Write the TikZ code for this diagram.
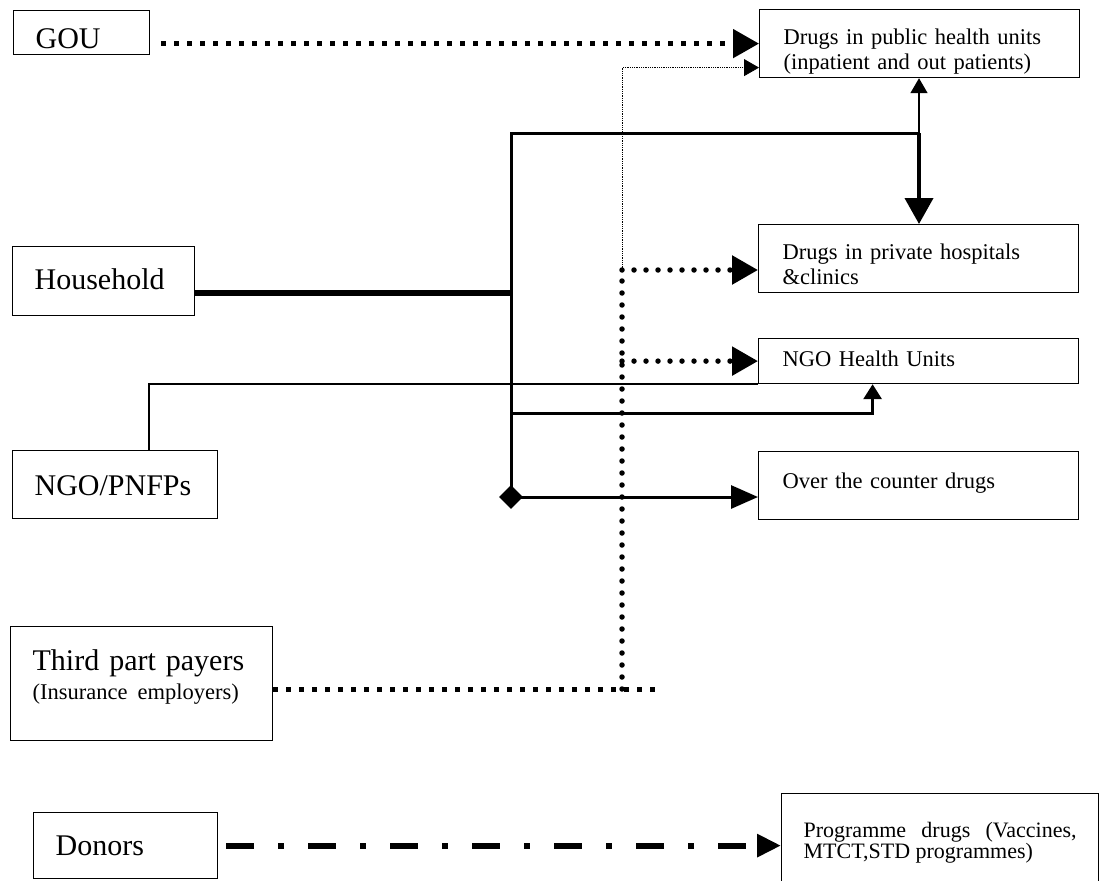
\documentclass[tikz,border=0pt]{standalone}
\usepackage{fontspec}
\setmainfont{Liberation Serif}
\usetikzlibrary{arrows.meta,shapes.geometric,positioning}
\tikzset{
  basic/.style  = {draw, line width=1.2pt, rectangle, anchor=north west, inner ysep=0pt},
  source/.style = {basic, align=left, inner xsep=22pt, font=\fontsize{30}{34}\selectfont},
  outlet/.style = {basic, align=left, inner xsep=24pt, text width=272pt, font=\fontsize{22.5}{25}\selectfont},
  sqdots/.style = {line width=5pt, dash pattern=on 5pt off 8pt},
  rdots/.style  = {line width=5.5pt, line cap=round, dash pattern=on 0pt off 12pt},
  big tip/.style   = {-{Triangle[length=26pt,width=28pt]}},
  small tip/.style = {-{Triangle[length=15pt,width=17pt]}}
}
\begin{document}
\begin{tikzpicture}[x=1pt,y=-1pt]
    \useasboundingbox (0,0) rectangle (1102,880);

    % payers on the left
    \node[source, text width=92pt, text height=38pt, text depth=6pt] (gou) at (13,10) {GOU};
    \node[source, text width=138pt, text height=43pt, text depth=26pt] (house) at (12,246) {Household};
    \node[source, text width=161pt, text height=45pt, text depth=23pt] (ngo) at (12,450) {NGO/PNFPs};
    \node[source, text width=218pt, text height=44pt, text depth=70pt] (third) at (10,626)
      {Third part payers\\[-5pt]{\fontsize{22.5}{26}\selectfont (Insurance employers)}};
    \node[source, text width=140pt, text height=43pt, text depth=23pt] (donors) at (33,812) {Donors};

    % drug outlets on the right
    \node[outlet, text height=35pt, text depth=33pt] (pub) at (759,9) {Drugs in public health units\\(inpatient and out patients)};
    \node[outlet, text height=35pt, text depth=33pt] (priv) at (758,224) {Drugs in private hospitals\\\&clinics};
    \node[outlet, text height=28pt, text depth=17pt] (ngohu) at (758,338) {NGO Health Units};
    \node[outlet, text height=37pt, text depth=31pt] (otc) at (758,451) {Over the counter drugs};
    \node[outlet, align=justify, inner xsep=22pt, text width=273pt, text height=44pt, text depth=50pt,
          font=\fontsize{22}{21}\selectfont] (prog) at (781,793)
      {Programme drugs (Vaccines,\linebreak MTCT,STD programmes)};

    % joins of the flows
    \coordinate (hj)   at (511,293);
    \coordinate (htop) at (511,133);
    \coordinate (hrt)  at (919,133);
    \coordinate (hn)   at (511,413);
    \node[diamond, fill, inner sep=0pt, minimum size=24pt] (hd) at (511,497) {};
    \coordinate (tj)   at (622,689);
    \coordinate (tt)   at (622,270);
    \coordinate (tend) at (655,689);

    % government
    \draw[sqdots, big tip, shorten <=11pt] (gou.east |- pub.west) -- (pub.west);

    % household
    \draw[line width=5.5pt] (house.east |- hj) -- (hj);
    \draw[line width=3pt] (hd.center) -- (htop) -- (hrt);
    \draw[line width=4pt, big tip] (hrt) -- (hrt |- priv.north);
    \draw[line width=1.5pt, small tip] (hrt) -- (hrt |- pub.south);
    \draw[line width=3pt, -{Triangle[length=15pt,width=18pt]}] (hn) -| ([xshift=-46pt]ngohu.south);
    \draw[line width=3pt, -{Triangle[length=27pt,width=23pt]}] (hd.center) -- (hd -| otc.west);

    % NGO/PNFPs
    \draw[line width=1.5pt] ([xshift=34pt]ngo.north) |- (ngohu.south west);

    % third party payers
    \draw[sqdots] (third.east |- tend) -- (tend);
    \draw[rdots] (tj) -- (tt);
    \draw[rdots, big tip] (tt) -- (tt -| priv.west);
    \draw[rdots, big tip] (tt |- ngohu.west) -- (ngohu.west);
    \draw[densely dotted, line width=0.8pt, small tip] (tt) |- ([yshift=-24pt]pub.west);

    % donors
    \draw[line width=6pt, dash pattern=on 28pt off 24pt on 6pt off 24pt,
          -{Triangle[length=24pt,width=22pt]}, shorten <=8pt] (donors.east) -- (donors.east -| prog.west);
\end{tikzpicture}
\end{document}
